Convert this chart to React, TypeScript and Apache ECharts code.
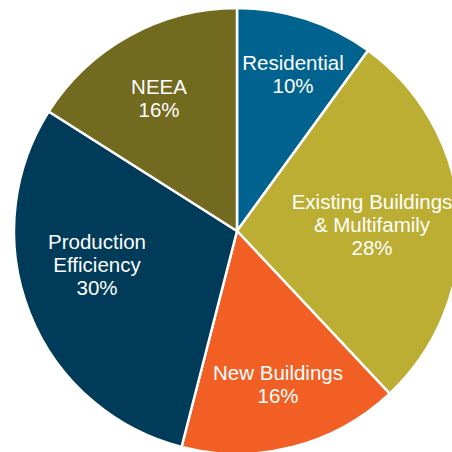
import React, { useEffect, useRef } from "react";
import * as echarts from "echarts";

const categories = [
  "Residential",
  "Existing Buildings\n& Multifamily",
  "New Buildings",
  "Production\nEfficiency",
  "NEEA",
];
const shares = [10, 28, 16, 30, 16];
const colors = ["#00628f", "#bcae33", "#f15f24", "#003b59", "#716a1f"];
// label anchor positions (px) within the 452x452 canvas
const labelPos: [number, number][] = [
  [293, 74],
  [372, 224],
  [278, 384],
  [97, 264],
  [159, 98],
];

export default function App() {
  const ref = useRef<HTMLDivElement>(null);
  useEffect(() => {
    if (!ref.current) return;
    const chart = echarts.init(ref.current, null, { renderer: "svg" });
    chart.setOption({
      animation: false,
      backgroundColor: "#ffffff",
      series: [
        {
          type: "pie",
          center: [237, 231],
          radius: [0, 223],
          startAngle: 90,
          clockwise: true,
          avoidLabelOverlap: false,
          itemStyle: { borderColor: "#ffffff", borderWidth: 2.5 },
          label: {
            show: true,
            position: "inside",
            color: "#ffffff",
            fontFamily: "Liberation Sans, Arial, sans-serif",
            fontSize: 20.5,
            lineHeight: 23,
            align: "center",
            formatter: "{b}\n{c}%",
          },
          labelLine: { show: false },
          labelLayout: (p: any) => ({
            x: labelPos[p.dataIndex][0],
            y: labelPos[p.dataIndex][1],
            align: "center",
            verticalAlign: "middle",
          }),
          emphasis: { disabled: true },
          data: categories.map((name, i) => ({
            name,
            value: shares[i],
            itemStyle: { color: colors[i] },
          })),
        },
      ],
    });
    return () => chart.dispose();
  }, []);
  return (
    <div
      ref={ref}
      style={{ position: "fixed", left: 0, top: 0, width: 452, height: 452 }}
    />
  );
}
